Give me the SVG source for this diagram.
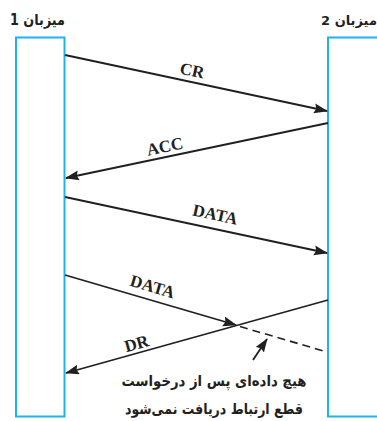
<svg xmlns="http://www.w3.org/2000/svg" width="377" height="421" viewBox="0 0 377 421">
<style>
.host{fill:#fff;stroke:#1BB4EE;stroke-width:2}
.ln{stroke:#231F20;stroke-width:1.8;fill:none}
.dash{stroke:#231F20;stroke-width:1.6;fill:none;stroke-dasharray:8 5}
.lbl{font-family:"Liberation Serif",serif;font-weight:bold;font-size:17px;fill:#231F20;text-anchor:middle}
.fa{font-family:"DejaVu Sans","Noto Sans",sans-serif;font-weight:bold;font-size:15px;fill:#231F20;text-anchor:middle;direction:rtl;unicode-bidi:embed}
</style>
<defs>
<marker id="ah" markerUnits="userSpaceOnUse" markerWidth="15" markerHeight="11" refX="13" refY="5" orient="auto">
<path d="M0,0 L14,5 L0,10 L2,5 z" fill="#231F20"/>
</marker>
</defs>
<rect width="377" height="421" fill="#fff"/>
<g id="host1">
<rect class="host" x="16" y="37.5" width="48.5" height="379"/>
<text class="fa" x="37.5" y="25" textLength="55" lengthAdjust="spacingAndGlyphs">میزبان 1</text>
</g>
<g id="host2">
<rect class="host" x="328" y="37.5" width="60" height="379"/>
<text class="fa" x="349" y="25" style="font-size:13px">میزبان 2</text>
</g>
<g id="connectors">
<line class="ln" x1="65" y1="55" x2="327" y2="111" marker-end="url(#ah)"/>
<line class="ln" x1="328" y1="123" x2="66" y2="178" marker-end="url(#ah)"/>
<line class="ln" x1="65" y1="197" x2="327" y2="253" marker-end="url(#ah)"/>
<line class="ln" x1="65" y1="275" x2="236" y2="325" marker-end="url(#ah)"/>
<line class="dash" x1="240" y1="326.5" x2="327" y2="352"/>
<line class="ln" x1="328" y1="300" x2="66" y2="373" marker-end="url(#ah)"/>
<line class="ln" x1="253" y1="360" x2="267" y2="339" marker-end="url(#ah)"/>
</g>
<g id="labels">
<text class="lbl" transform="translate(191,76) rotate(12)">CR</text>
<text class="lbl" transform="translate(166,152) rotate(-11.8)">ACC</text>
<text class="lbl" transform="translate(214,220) rotate(12.2)">DATA</text>
<text class="lbl" transform="translate(151,292) rotate(16.3)">DATA</text>
<text class="lbl" transform="translate(138,349) rotate(-15.6)">DR</text>
</g>
<g id="note">
<text class="fa" x="214" y="386" textLength="185" lengthAdjust="spacingAndGlyphs">هیچ داده‌ای پس از درخواست</text>
<text class="fa" x="214" y="414" textLength="178" lengthAdjust="spacingAndGlyphs">قطع ارتباط دریافت نمی‌شود</text>
</g>
</svg>
